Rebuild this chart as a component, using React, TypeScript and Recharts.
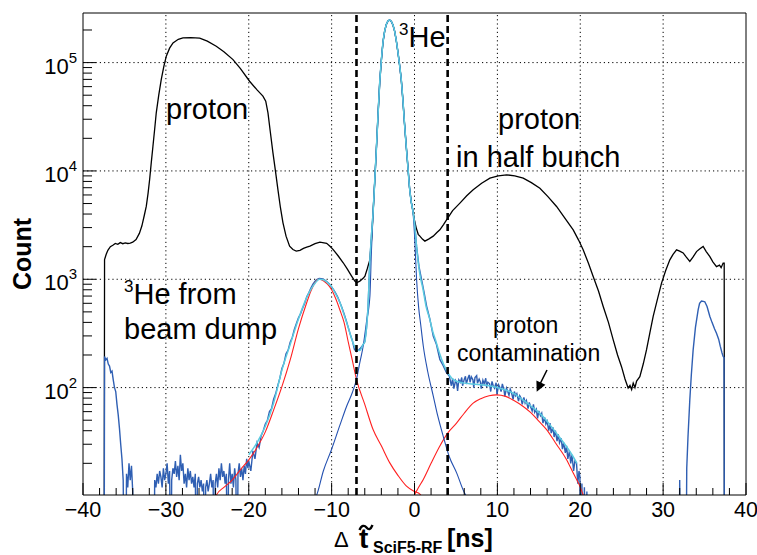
import { LineChart, Line, XAxis, YAxis, ReferenceLine } from "recharts";

// Axis ranges (log y).
const X_MIN = -40;
const X_MAX = 40;
const Y_MIN = 10.2;
const Y_MAX = 2.87e5;
const EMPTY_BIN = 1; // empty bins sit below the frame on a log axis

const xTicks = [-40, -38, -36, -34, -32, -30, -28, -26, -24, -22, -20, -18, -16, -14, -12, -10, -8, -6, -4, -2, 0, 2, 4, 6, 8, 10, 12, 14, 16, 18, 20, 22, 24, 26, 28, 30, 32, 34, 36, 38, 40];
const yTicks = [20, 30, 40, 50, 60, 70, 80, 90, 100, 200, 300, 400, 500, 600, 700, 800, 900, 1000, 2000, 3000, 4000, 5000, 6000, 7000, 8000, 9000, 10000, 20000, 30000, 40000, 50000, 60000, 70000, 80000, 90000, 100000, 200000];
const xGrid = [-30, -20, -10, 0, 10, 20, 30];
const yGrid = [100, 1000, 10000, 100000];
const cutLines = [-7, 4];

// 3He main peak, shared by the total, selected and fit curves
const he3Peak: [number, number][] = [
  [-4.8, 8000], [-4.6, 16000], [-4.4, 33000], [-4.2, 65000], [-4.0, 105000], [-3.8, 155000],
  [-3.6, 195000], [-3.4, 225000], [-3.2, 242000], [-3.0, 247000], [-2.8, 240000], [-2.6, 222000],
  [-2.4, 195000], [-2.2, 160000], [-2.0, 125000], [-1.8, 95000], [-1.6, 70000], [-1.4, 45000],
  [-1.2, 27000], [-1.0, 17000], [-0.8, 11000], [-0.6, 7000], [-0.4, 5200], [-0.2, 4300],
];

// all particles (black)
const totalHist: [number, number][] = [
  [-40, 0], [-37.45, 0], [-37.4, 1520], [-37.2, 1700], [-37.0, 1850], [-36.7, 2000], [-36.4, 2060],
  [-36.1, 2140], [-35.8, 2100], [-35.5, 2180], [-35.2, 2130], [-34.9, 2170], [-34.6, 2140], [-34.3, 2160],
  [-34.0, 2200], [-33.6, 2330], [-33.2, 2650], [-32.9, 3100], [-32.6, 3900], [-32.36, 4730], [-32.15, 6200],
  [-31.96, 8340], [-31.76, 12000], [-31.56, 16900], [-31.36, 24000], [-31.16, 34400], [-30.86, 50000],
  [-30.56, 69600], [-30.25, 92000], [-29.95, 114600], [-29.55, 136000], [-29.14, 152000], [-28.5, 164000],
  [-27.94, 169000], [-27.0, 170000], [-25.92, 168000], [-25.0, 158000], [-23.92, 141600], [-23.0, 126000],
  [-21.9, 106600], [-21.0, 88000], [-19.9, 67300], [-19.0, 56000], [-18.29, 49000], [-17.95, 44000],
  [-17.68, 34400], [-17.4, 23000], [-17.08, 14700], [-16.78, 10000], [-16.48, 6730], [-16.18, 4600],
  [-15.87, 3320], [-15.5, 2500], [-15.07, 2020], [-14.67, 1880], [-14.27, 1820], [-13.82, 1850],
  [-13.4, 1930], [-13.0, 1980], [-12.62, 2020], [-12.0, 2130], [-11.41, 2200], [-10.6, 2150],
  [-10.2, 2020], [-9.81, 1880], [-9.2, 1640], [-8.6, 1420], [-8.1, 1240], [-7.59, 1070], [-7.2, 960],
  [-6.99, 929], [-6.6, 960], [-6.2, 1020], [-5.98, 1070], [-5.7, 1250], [-5.38, 1520], [-5.15, 2500],
  [-5.0, 4100], ...he3Peak, [0.0, 3500], [0.2, 3000], [0.45, 2600], [0.65, 2500], [0.95, 2350],
  [1.25, 2250], [1.7, 2350], [2.26, 2500], [2.7, 2700], [3.06, 2860], [3.5, 3200], [3.87, 3540],
  [4.6, 4300], [5.48, 5050], [6.3, 5900], [7.08, 6700], [8.1, 7700], [9.1, 8590], [10.1, 9000],
  [11.11, 9210], [12.1, 9000], [13.12, 8590], [14.1, 7800], [15.13, 6930], [16.1, 5800], [17.14, 4700],
  [18.1, 3700], [19.15, 2860], [19.8, 2300], [20.35, 1870], [21.0, 1400], [21.56, 1060], [22.2, 780],
  [22.77, 561], [23.4, 400], [23.97, 277], [24.5, 200], [24.98, 156], [25.4, 120], [25.78, 99],
  [26.0, 105], [26.2, 96], [26.39, 110], [26.6, 100], [26.8, 115], [27.19, 126], [27.6, 165],
  [28.0, 224], [28.4, 320], [28.8, 454], [29.3, 650], [29.81, 922], [30.3, 1200], [30.81, 1510],
  [31.2, 1700], [31.62, 1870], [32.0, 1820], [32.42, 1750], [32.8, 1600], [33.22, 1460], [33.6, 1600],
  [34.03, 1800], [34.4, 1900], [34.83, 2010], [35.2, 1800], [35.64, 1620], [36.0, 1450], [36.44, 1310],
  [36.8, 1350], [37.0, 1280], [37.24, 1410], [37.37, 1410], [37.4, 0], [40, 0],
];

// 3He-selected events (blue)
const he3Hist: [number, number][] = [
  [-40, 0], [-37.45, 0], [-37.4, 194], [-37.25, 180], [-37.1, 186], [-36.95, 165], [-36.8, 158],
  [-36.65, 138], [-36.5, 142], [-36.35, 118], [-36.2, 100], [-36.05, 92], [-35.9, 70], [-35.75, 56],
  [-35.6, 42], [-35.45, 30], [-35.3, 22], [-35.15, 14], [-35.0, 0], [-34.85, 0], [-34.75, 16],
  [-34.6, 12], [-34.45, 20], [-34.3, 14], [-34.15, 19], [-34.0, 11], [-33.9, 0], [-31.45, 0],
  [-31.35, 14], [-31.2, 12], [-31.05, 16], [-30.9, 13], [-30.75, 17], [-30.6, 15], [-30.45, 12],
  [-30.3, 18], [-30.15, 14], [-30.0, 16], [-29.85, 20], [-29.7, 13], [-29.55, 17], [-29.4, 0],
  [-29.3, 14], [-29.15, 18], [-29.0, 16], [-28.85, 21], [-28.7, 15], [-28.55, 19], [-28.4, 14],
  [-28.25, 24], [-28.1, 17], [-27.95, 20], [-27.8, 13], [-27.65, 16], [-27.5, 12], [-27.35, 18],
  [-27.2, 14], [-27.05, 17], [-26.9, 13], [-26.75, 15], [-26.6, 12], [-26.45, 16], [-26.3, 0],
  [-26.2, 13], [-26.05, 15], [-25.9, 12], [-25.75, 14], [-25.6, 11], [-25.45, 13], [-25.3, 0],
  [-25.2, 12], [-25.05, 14], [-24.9, 11], [-24.75, 13], [-24.6, 16], [-24.45, 12], [-24.3, 14],
  [-24.15, 0], [-24.05, 13], [-23.9, 16], [-23.75, 12], [-23.6, 18], [-23.45, 14], [-23.3, 20],
  [-23.15, 15], [-23.0, 17], [-22.85, 13], [-22.7, 16], [-22.55, 0], [-22.45, 14], [-22.3, 20],
  [-22.15, 13], [-22.0, 16], [-21.85, 12], [-21.7, 18], [-21.55, 14], [-21.4, 0], [-21.3, 16],
  [-21.15, 20], [-21.0, 15], [-20.85, 18], [-20.7, 14], [-20.55, 19], [-20.4, 16], [-20.25, 22],
  [-20.1, 18], [-20.0, 21], [-19.75, 17], [-19.5, 26], [-19.25, 22], [-19.0, 31], [-18.75, 28],
  [-18.5, 36], [-18.25, 40], [-18.0, 46], [-17.75, 50], [-17.5, 60], [-17.25, 64], [-17.0, 78],
  [-16.75, 88], [-16.5, 104], [-16.25, 122], [-16.0, 150], [-15.75, 168], [-15.5, 205], [-15.25, 222],
  [-15.0, 262], [-14.75, 290], [-14.5, 345], [-14.25, 390], [-14.0, 440], [-13.75, 480], [-13.5, 540],
  [-13.25, 600], [-13.0, 690], [-12.75, 750], [-12.5, 830], [-12.25, 900], [-12.0, 960], [-11.75, 1000],
  [-11.5, 1015], [-11.25, 1010], [-11.0, 1000], [-10.75, 975], [-10.5, 940], [-10.25, 900], [-10.0, 850],
  [-9.75, 800], [-9.5, 740], [-9.25, 680], [-9.0, 610], [-8.75, 545], [-8.5, 480], [-8.25, 420],
  [-8.0, 360], [-7.75, 310], [-7.5, 272], [-7.25, 225], [-7.0, 215], [-6.75, 222], [-6.5, 232],
  [-6.25, 245], [-6.0, 265], [-5.8, 350], [-5.6, 560], [-5.4, 1420], [-5.2, 2500], [-5.0, 4100],
  ...he3Peak, [0.0, 3400], [0.25, 2000], [0.55, 1300], [0.85, 1000], [1.15, 760], [1.46, 566],
  [1.85, 430], [2.26, 299], [2.65, 250], [3.06, 182], [3.45, 160], [3.87, 137], [4.2, 128], [4.45, 104],
  [4.6, 121], [4.75, 98], [4.95, 116], [5.1, 109], [5.2, 93], [5.35, 118], [5.55, 112], [5.7, 124],
  [5.8, 104], [6.0, 119], [6.15, 127], [6.25, 108], [6.45, 122], [6.6, 131], [6.7, 112], [6.85, 126],
  [7.05, 118], [7.15, 100], [7.3, 124], [7.5, 129], [7.6, 110], [7.8, 120], [7.95, 113], [8.05, 98],
  [8.25, 117], [8.4, 108], [8.6, 122], [8.7, 101], [8.85, 112], [9.05, 109], [9.2, 92], [9.35, 114],
  [9.5, 104], [9.65, 99], [9.85, 111], [9.95, 86], [10.15, 106], [10.3, 100], [10.45, 92], [10.6, 108],
  [10.8, 95], [10.9, 83], [11.1, 99], [11.25, 92], [11.4, 85], [11.55, 97], [11.7, 90], [11.9, 78],
  [12.05, 92], [12.2, 84], [12.35, 88], [12.55, 75], [12.7, 84], [12.85, 80], [13.0, 70], [13.2, 81],
  [13.35, 72], [13.5, 76], [13.7, 64], [13.85, 73], [14.0, 67], [14.2, 61], [14.35, 70], [14.5, 59],
  [14.7, 63], [14.85, 52], [15.0, 61], [15.2, 55], [15.35, 58], [15.5, 47], [15.7, 53], [15.85, 46],
  [16.0, 49], [16.2, 40], [16.35, 47], [16.5, 38], [16.7, 43], [16.85, 35], [17.0, 40], [17.2, 32],
  [17.35, 37], [17.5, 31], [17.7, 34], [17.85, 27], [18.0, 31], [18.2, 25], [18.35, 29], [18.5, 22],
  [18.7, 26], [18.85, 20], [19.0, 24], [19.2, 17], [19.35, 21], [19.55, 20], [19.7, 13], [19.85, 17],
  [19.96, 15], [20.1, 0], [20.2, 13], [20.35, 0], [20.5, 12], [20.65, 0], [20.8, 11], [20.9, 0],
  [31.95, 0], [32.0, 14], [32.1, 0], [32.75, 0], [32.85, 18], [33.0, 35], [33.22, 77], [33.4, 130],
  [33.62, 222], [33.9, 360], [34.23, 524], [34.4, 600], [34.63, 630], [34.85, 625], [35.03, 620],
  [35.3, 560], [35.64, 454], [35.9, 400], [36.2, 350], [36.44, 318], [36.7, 280], [36.9, 240],
  [37.1, 210], [37.24, 194], [37.35, 190], [37.4, 0], [40, 0],
];

// total fit (cyan)
const fitTotal: [number, number][] = [
  [-20.0, 24], [-19.0, 31], [-18.0, 44], [-17.0, 72], [-16.0, 145], [-15.0, 250], [-14.0, 430],
  [-13.0, 680], [-12.0, 920], [-11.5, 1000], [-11.0, 990], [-10.5, 930], [-10.0, 850], [-9.5, 730],
  [-9.0, 610], [-8.5, 470], [-8.0, 360], [-7.5, 270], [-7.0, 225], [-6.6, 220], [-6.2, 250],
  [-6.0, 265], [-5.8, 350], [-5.6, 560], [-5.4, 1400], [-5.2, 2500], [-5.0, 4100], ...he3Peak,
  [0.0, 3300], [0.2, 2200], [0.45, 1420], [0.7, 1050], [1.0, 830], [1.4, 560], [1.8, 440], [2.2, 330],
  [2.6, 265], [3.0, 210], [3.5, 165], [4.0, 138], [4.5, 122], [5.0, 115], [5.5, 112], [6.0, 110],
  [7.0, 108], [8.0, 106], [9.0, 104], [10.0, 100], [11.0, 95], [12.0, 88], [13.0, 78], [14.0, 68],
  [15.0, 59], [16.0, 49], [17.0, 39], [18.0, 31], [19.0, 24], [19.6, 20],
];

// 3He from beam dump component (red, left)
const beamDumpFit: [number, number][] = [
  [-24.2, 9], [-23.9, 10.2], [-23.0, 12], [-22.0, 14], [-21.0, 17.5], [-20.0, 21.5], [-19.0, 28],
  [-18.0, 39], [-17.0, 62], [-16.0, 102], [-15.0, 180], [-14.0, 350], [-13.0, 610], [-12.5, 780],
  [-12.0, 930], [-11.6, 1000], [-11.0, 970], [-10.5, 900], [-10.0, 800], [-9.5, 660], [-9.0, 520],
  [-8.5, 400], [-8.0, 265], [-7.5, 178], [-7.0, 119], [-6.0, 70], [-5.0, 41], [-4.0, 29], [-3.0, 20.3],
  [-2.0, 15.5], [-1.0, 12.4], [0.0, 11], [0.65, 10.4], [1.0, 9.5],
];

// proton contamination component (red, right)
const protonFit: [number, number][] = [
  [-0.2, 9.5], [0.0, 10.2], [0.5, 12], [1.06, 14.2], [2.0, 20], [3.06, 28.9], [4.0, 38], [5.07, 47],
  [6.0, 58], [7.08, 71.8], [8.0, 79], [9.0, 84], [9.9, 85.7], [11.0, 83], [12.0, 76], [13.12, 67],
  [14.0, 59], [15.0, 49], [15.94, 40.9], [17.0, 31], [18.35, 21.6], [19.2, 16], [19.96, 12.3],
  [20.36, 10.2], [20.8, 9],
];

// main 3He component (thin dark blue)
const he3Fit: [number, number][] = [
  [-12.0, 9.5], [-11.8, 10.2], [-11.0, 17], [-10.0, 27], [-9.0, 45], [-8.2, 67], [-7.5, 90],
  [-7.0, 119], [-6.6, 170], [-6.19, 242], [-5.8, 400], [-5.38, 700], [-5.2, 1800], [-5.0, 4000],
  ...he3Peak, [0.0, 2600], [0.25, 1000], [0.5, 550], [0.75, 380], [1.06, 242], [1.6, 140],
  [2.26, 84], [2.8, 55], [3.46, 35.7], [4.2, 23], [5.07, 16.4], [6.07, 10.5], [6.68, 9],
];

const toPoints = (rows: [number, number][]) =>
  rows.map(([t, v]) => ({ t, v: Math.max(v, EMPTY_BIN) }));

const FONT = '"Liberation Sans", Arial, Helvetica, sans-serif';

function XTick(props: any) {
  const { x, y, payload } = props;
  const v = payload.value as number;
  const major = v % 10 === 0;
  return (
    <g>
      <line x1={x} x2={x} y1={y} y2={y - (major ? 12 : 7)} stroke="#000" strokeWidth={1} />
      {major && (
        <text x={x} y={y + 22} textAnchor="middle" fontSize={21.5} fontFamily={FONT} fill="#000">
          {v < 0 ? `\u2212${-v}` : `${v}`}
        </text>
      )}
    </g>
  );
}

function YTick(props: any) {
  const { x, y, payload } = props;
  const v = payload.value as number;
  const exp = Math.round(Math.log10(v));
  const major = Math.abs(Math.log10(v) - exp) < 1e-9;
  return (
    <g>
      <line x1={x} x2={x + (major ? 13 : 9)} y1={y} y2={y} stroke="#000" strokeWidth={1} />
      {major && (
        <text x={x - 6} y={y + 11} textAnchor="end" fontSize={22} fontFamily={FONT} fill="#000">
          10
          <tspan dy={-11} fontSize={15}>{exp}</tspan>
        </text>
      )}
    </g>
  );
}

export default function App() {
  const lineProps = { dataKey: "v", dot: false, activeDot: false, isAnimationActive: false } as const;
  return (
    <div style={{ position: "absolute", left: 0, top: 0, width: 757, height: 555, background: "#fff", fontFamily: FONT }}>
      <LineChart width={757} height={555} margin={{ top: 13, right: 11, bottom: 0, left: 8 }}>
        <XAxis
          dataKey="t"
          type="number"
          domain={[X_MIN, X_MAX]}
          allowDataOverflow
          ticks={xTicks}
          interval={0}
          tick={<XTick />}
          tickLine={false}
          tickSize={0}
          tickMargin={0}
          height={60}
          axisLine={{ stroke: "#000", strokeWidth: 1 }}
        />
        <YAxis
          type="number"
          scale="log"
          domain={[Y_MIN, Y_MAX]}
          allowDataOverflow
          ticks={yTicks}
          interval={0}
          tick={<YTick />}
          tickLine={false}
          tickSize={0}
          tickMargin={0}
          width={75}
          axisLine={{ stroke: "#000", strokeWidth: 1 }}
        />
        {xGrid.map((g) => (
          <ReferenceLine key={`gx${g}`} x={g} stroke="#000" strokeWidth={1} strokeDasharray="1.2 3" />
        ))}
        {yGrid.map((g) => (
          <ReferenceLine key={`gy${g}`} y={g} stroke="#000" strokeWidth={1} strokeDasharray="1.2 3" />
        ))}
        <ReferenceLine x={X_MAX} stroke="#000" strokeWidth={1} />
        <ReferenceLine y={Y_MAX} stroke="#000" strokeWidth={1} />

        <Line {...lineProps} data={toPoints(totalHist)} type="linear" stroke="#000" strokeWidth={1.3} />
        <Line {...lineProps} data={toPoints(he3Hist)} type="linear" stroke="#2f5fb3" strokeWidth={1.4} />
        <Line {...lineProps} data={toPoints(beamDumpFit)} type="monotone" stroke="#ff2020" strokeWidth={1.1} />
        <Line {...lineProps} data={toPoints(protonFit)} type="monotone" stroke="#ff2020" strokeWidth={1.1} />
        <Line {...lineProps} data={toPoints(he3Fit)} type="monotone" stroke="#2350b0" strokeWidth={1.1} />
        <Line {...lineProps} data={toPoints(fitTotal)} type="monotone" stroke="#5ccbe0" strokeWidth={1.5} />

        {cutLines.map((c) => (
          <ReferenceLine key={`cut${c}`} x={c} stroke="#000" strokeWidth={2.6} strokeDasharray="7 4" />
        ))}
      </LineChart>

      <svg width={757} height={555} style={{ position: "absolute", left: 0, top: 0, pointerEvents: "none" }} fontFamily={FONT}>
        <text x={166} y={119} fontSize={29}>proton</text>
        <text x={399} y={47} fontSize={29}>
          <tspan fontSize={17} dy={-12}>3</tspan>
          <tspan dy={12}>He</tspan>
        </text>
        <text x={498} y={129} fontSize={29}>proton</text>
        <text x={456} y={167} fontSize={29}>in half bunch</text>
        <text x={124} y={304} fontSize={29}>
          <tspan fontSize={17} dy={-12}>3</tspan>
          <tspan dy={12}>He from</tspan>
        </text>
        <text x={124} y={339} fontSize={29}>beam dump</text>
        <text x={493} y={333} fontSize={23}>proton</text>
        <text x={457} y={361} fontSize={23}>contamination</text>
        <line x1={547} y1={370} x2={540} y2={384} stroke="#000" strokeWidth={1.6} />
        <polygon points="536.7,391.7 545.4,384.7 536.4,380.5" fill="#000" />

        <text transform="translate(31,254) rotate(-90)" textAnchor="middle" fontSize={25} fontWeight="bold">Count</text>

        <text x={334} y={547} fontSize={22}>Δ</text>
        <text x={359} y={548} fontSize={28} fontWeight="bold">t</text>
        <path d="M359.5,530 C361.5,525 364.5,525 366.5,527.5 S370.5,530 372.5,525" fill="none" stroke="#000" strokeWidth={2.4} />
        <text x={373} y={553} fontSize={16} fontWeight="bold">SciF5-RF</text>
        <text x={447} y={547} fontSize={25} fontWeight="bold">[ns]</text>
      </svg>
    </div>
  );
}
